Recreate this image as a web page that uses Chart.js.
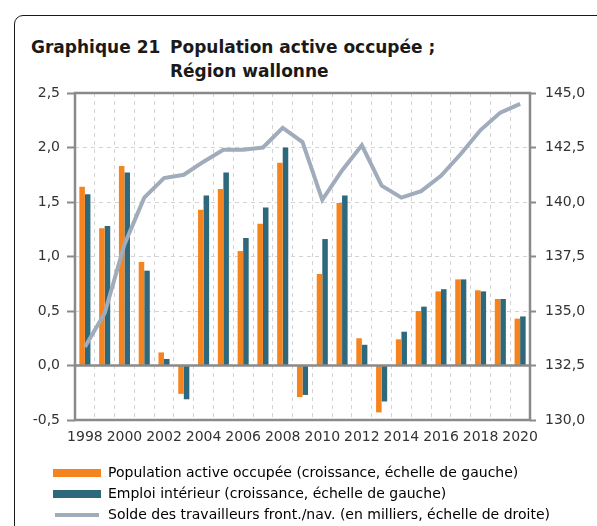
<!DOCTYPE html>
<html>
<head>
<meta charset="utf-8">
<script src="https://cdn.jsdelivr.net/npm/chart.js@4.4.1/dist/chart.umd.min.js"></script>
<style>
  body { margin: 0; background: #fff; }
  #wrap { position: relative; width: 597px; height: 526px; overflow: hidden; }
  #frame { position: absolute; left: 14px; top: 15px; width: 600px; height: 600px;
           border: 1.5px solid #1a1a1a; border-radius: 9px; }
  .t { position: absolute; font: bold 17px "DejaVu Sans", sans-serif;
       color: #1a1a1a; white-space: nowrap; line-height: 24px; }
  canvas { position: absolute; left: 0; top: 0; }
</style>
</head>
<body>
<div id="wrap">
  <div id="frame"></div>
  <div class="t" style="left:31px;top:35px">Graphique 21</div>
  <div class="t" style="left:170px;top:35px">Population active occupée ;<br>Région wallonne</div>
  <canvas id="chart" width="597" height="526"></canvas>
</div>
<script>
var years = ["1998", "1999", "2000", "2001", "2002", "2003", "2004", "2005", "2006", "2007", "2008",
  "2009", "2010", "2011", "2012", "2013", "2014", "2015", "2016", "2017", "2018", "2019", "2020"];
var popActive = [1.64, 1.26, 1.83, 0.95, 0.12, -0.26, 1.43, 1.62, 1.05, 1.30, 1.86,
  -0.29, 0.84, 1.49, 0.25, -0.43, 0.24, 0.50, 0.68, 0.79, 0.69, 0.61, 0.43];
var emploiInt = [1.57, 1.28, 1.77, 0.87, 0.06, -0.31, 1.56, 1.77, 1.17, 1.45, 2.00,
  -0.27, 1.16, 1.56, 0.19, -0.33, 0.31, 0.54, 0.70, 0.79, 0.68, 0.61, 0.45];
var soldeFront = [133.35, 134.9, 138.05, 140.2, 141.1, 141.25, 141.85, 142.4, 142.4, 142.5, 143.4,
  142.75, 140.1, 141.45, 142.6, 140.75, 140.2, 140.5, 141.2, 142.2, 143.3, 144.1, 144.5];
var seriesNames = [
  "Population active occupée (croissance, échelle de gauche)",
  "Emploi intérieur (croissance, échelle de gauche)",
  "Solde des travailleurs front./nav. (en milliers, échelle de droite)"
];

var axisGray = '#8a8a8a';
var gridGray = '#d4d4d4';

function comma(v) { return v.toFixed(1).replace('.', ','); }

// plot frame + zero line, drawn over the grid
var framePlugin = {
  id: 'frame',
  afterDatasetsDraw: function(chart) {
    var a = chart.chartArea, ctx = chart.ctx;
    var y0 = chart.scales.y.getPixelForValue(0);
    ctx.save();
    ctx.strokeStyle = axisGray;
    ctx.lineWidth = 2.5;
    ctx.strokeRect(a.left, a.top, a.right - a.left, a.bottom - a.top);
    ctx.beginPath();
    ctx.moveTo(a.left, y0);
    ctx.lineTo(a.right, y0);
    ctx.stroke();
    ctx.restore();
  }
};

// legend sits indented and a bit lower than the layout puts it
var legendShift = {
  id: 'legendShift',
  afterLayout: function(chart) {
    chart.legend.left += 46;
    chart.legend.right += 46;
    chart.legend.top += 6;
    chart.legend.bottom += 6;
  }
};

Chart.defaults.font.family = '"DejaVu Sans", sans-serif';
Chart.defaults.font.size = 14;
Chart.defaults.color = '#333';

new Chart(document.getElementById('chart'), {
  type: 'bar',
  data: {
    labels: years,
    datasets: [
      {
        label: seriesNames[0],
        data: popActive,
        backgroundColor: '#f5841f',
        categoryPercentage: 0.56,
        barPercentage: 1.0,
        yAxisID: 'y',
        order: 2
      },
      {
        label: seriesNames[1],
        data: emploiInt,
        backgroundColor: '#2e687d',
        categoryPercentage: 0.56,
        barPercentage: 1.0,
        yAxisID: 'y',
        order: 2
      },
      {
        type: 'line',
        label: seriesNames[2],
        data: soldeFront,
        borderColor: '#a0acbb',
        backgroundColor: '#a0acbb',
        borderWidth: 4,
        pointRadius: 0,
        tension: 0,
        yAxisID: 'y1',
        order: 1
      }
    ]
  },
  options: {
    responsive: false,
    animation: false,
    layout: { padding: { top: 93, bottom: 0, left: 0, right: 0 } },
    plugins: {
      title: { display: false },
      tooltip: { enabled: false },
      legend: {
        position: 'bottom',
        align: 'start',
        labels: {
          boxWidth: 48,
          boxHeight: 8,
          padding: 7,
          color: '#333',
          generateLabels: function(chart) {
            return chart.data.datasets.map(function(ds, i) {
              var isLine = ds.type === 'line';
              return {
                text: ds.label,
                fillStyle: isLine ? ds.borderColor : ds.backgroundColor,
                strokeStyle: '#fff',
                lineWidth: isLine ? 4 : 0,
                hidden: false,
                datasetIndex: i
              };
            });
          }
        }
      }
    },
    scales: {
      x: {
        grid: { offset: true, color: gridGray, lineWidth: 1, drawTicks: false },
        border: { display: false, dash: [4, 4] },
        ticks: {
          autoSkip: false,
          maxRotation: 0,
          padding: 9,
          callback: function(v, i) { return i % 2 === 0 ? years[i] : ''; }
        },
        afterFit: function(s) { s.height = 33; }
      },
      y: {
        position: 'left',
        min: -0.5,
        max: 2.5,
        grid: { color: gridGray, lineWidth: 1, tickLength: 8, tickColor: axisGray, tickWidth: 2 },
        border: { display: false, dash: [4, 4] },
        ticks: { stepSize: 0.5, padding: 7, callback: function(v) { return comma(v); } },
        afterFit: function(s) { s.width = 75; }
      },
      y1: {
        position: 'right',
        min: 130,
        max: 145,
        grid: { drawOnChartArea: false, tickLength: 6, tickColor: axisGray, tickWidth: 2 },
        border: { display: false },
        ticks: { stepSize: 2.5, padding: 9, callback: function(v) { return comma(v); } },
        afterFit: function(s) { s.width = 67; }
      }
    }
  },
  plugins: [framePlugin, legendShift]
});
</script>
</body>
</html>
